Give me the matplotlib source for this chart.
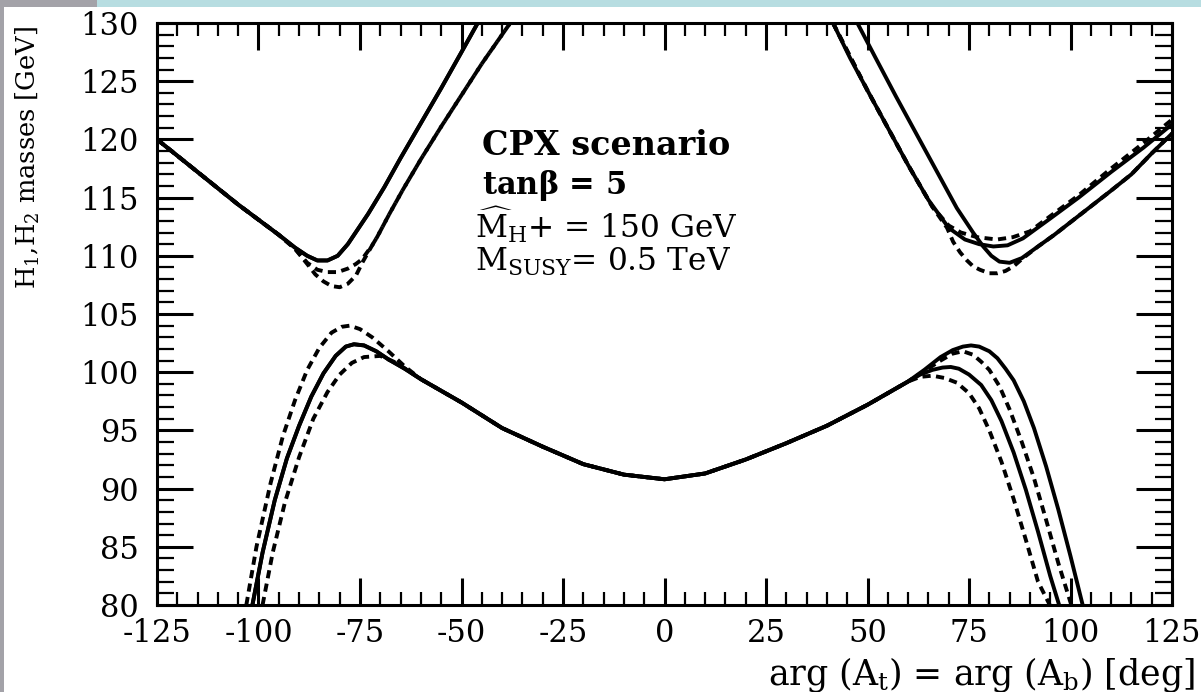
"""
Masas H1 / H2 frente a la fase comun arg(A_t) = arg(A_b), escenario CPX.
Curvas continuas y discontinuas para las distintas variantes del calculo.
"""

import numpy as np
import matplotlib.pyplot as plt
from matplotlib.patches import Rectangle
from matplotlib.ticker import MultipleLocator

plt.rcParams["font.family"] = ["DejaVu Serif"]
plt.rcParams["mathtext.fontset"] = "dejavuserif"
plt.rcParams["axes.unicode_minus"] = False

# ── H1 (rama inferior) ─────────────────────────────────────────────────────────
# tramo comun a todas las curvas
H1_MID_X = [-60, -50, -40, -30, -20, -10, 0, 10, 20, 30, 40, 50, 60]
H1_MID_Y = [99.4, 97.4, 95.2, 93.6, 92.1, 91.2, 90.8, 91.3, 92.5, 93.9, 95.4, 97.2, 99.2]

# lado izquierdo (las dos continuas coinciden)
H1_SOL_LX = [-101.5, -99, -96, -93, -90, -87, -84, -81, -78.5, -76.5, -74, -71, -68, -64]
H1_SOL_LY = [80.0, 84.5, 89.0, 92.6, 95.4, 97.9, 99.9, 101.4, 102.2, 102.4, 102.3, 101.8, 101.1, 100.3]
H1_DC_LX = [-103, -100.5, -97, -94, -91, -88, -85, -82, -79.5, -77.5, -75, -72, -68, -64]
H1_DC_LY = [80.0, 85.0, 90.5, 94.5, 97.6, 100.2, 102.1, 103.4, 103.9, 104.0, 103.7, 103.0, 101.8, 100.5]
H1_DD_LX = [-99, -96.5, -93.5, -90, -86.5, -83, -80, -77, -74, -70, -66]
H1_DD_LY = [80.0, 84.5, 88.8, 92.7, 96.0, 98.3, 99.8, 100.8, 101.3, 101.4, 100.8]

# lado derecho
H1_SA_RX = [64, 68, 71, 73.5, 75.5, 77.5, 80, 82, 84, 86, 88.5, 91, 94, 97, 100, 103]
H1_SA_RY = [100.2, 101.3, 101.9, 102.2, 102.3, 102.2, 101.8, 101.2, 100.3, 99.3, 97.5, 95.2,
            91.9, 88.2, 84.2, 80.0]
H1_SB_RX = [63, 66, 68.5, 70.5, 72.5, 75, 78, 80.5, 83, 86, 89, 92, 95, 97.2]
H1_SB_RY = [99.8, 100.2, 100.4, 100.45, 100.3, 99.8, 98.9, 97.6, 95.8, 93.1, 89.9, 86.3, 82.5, 80.0]
H1_DC_RX = [64, 68, 71, 73.5, 76, 78, 80, 82.5, 85, 88, 91, 94, 97, 100.2]
H1_DC_RY = [100.1, 101.0, 101.6, 101.8, 101.5, 100.9, 100.2, 98.8, 96.8, 94.0, 90.9, 87.3, 83.6, 80.0]
H1_DD_RX = [63, 66, 69, 72, 75, 77.5, 80, 83, 86, 89, 92, 94.9]
H1_DD_RY = [99.6, 99.7, 99.5, 99.1, 98.2, 96.9, 95.0, 92.3, 89.1, 85.6, 82.0, 80.0]

# ── H2 (rama superior) ─────────────────────────────────────────────────────────
H2_SOL_LX = [-125, -120, -115, -110, -105, -100, -95, -91, -88, -85.5, -83, -80.5,
             -78, -75.5, -73, -69, -65, -60, -55, -50, -46]
H2_SOL_LY = [120.0, 118.6, 117.2, 115.8, 114.4, 113.1, 111.8, 110.7, 110.0, 109.6, 109.6,
             110.0, 111.0, 112.3, 113.6, 115.9, 118.4, 121.4, 124.4, 127.5, 130.0]
H2_DC_LX = [-125, -115, -105, -95, -91, -88, -85.5, -83, -80.5, -78, -76, -74.5]
H2_DC_LY = [120.0, 117.2, 114.4, 111.8, 110.6, 109.4, 108.8, 108.6, 108.6, 108.9, 109.3, 109.7]
H2_DD_LX = [-125, -115, -105, -95, -91, -88, -86, -84, -82, -80, -78, -76, -74.3]
H2_DD_LY = [120.0, 117.2, 114.4, 111.8, 110.6, 109.3, 108.4, 107.8, 107.4, 107.3, 107.6, 108.3, 109.5]
# subida comun de las dos discontinuas
H2_DSUB_X = [-72, -70.8, -67.6, -64.4, -60, -55, -50, -45, -40, -38]
H2_DSUB_Y = [110.9, 111.6, 113.7, 115.7, 118.3, 121.1, 123.8, 126.5, 129.0, 130.0]

H2_SA_RX = [47.5, 52, 57, 62, 67, 72, 76, 78.5, 80.5, 82.5, 85, 88, 92, 96, 103, 110, 115, 120, 125]
H2_SA_RY = [130.0, 127.0, 123.7, 120.5, 117.3, 114.1, 112.0, 110.8, 110.0, 109.5, 109.4,
            109.8, 110.8, 111.8, 113.7, 115.6, 117.0, 118.8, 120.5]
H2_SB_RX = [41.5, 45.7, 50, 55, 60, 65, 70, 74, 77.5, 81, 84.5, 88.3, 95, 102, 110, 118, 125]
H2_SB_RY = [130.0, 127.0, 124.2, 121.0, 117.8, 114.8, 112.4, 111.4, 111.0, 110.8, 110.9,
            111.5, 113.2, 115.0, 117.2, 119.3, 121.3]
H2_DC_RX = [41.5, 50, 60, 66, 70, 73, 77, 81.9, 85.8, 90, 95, 102, 110, 118, 125]
H2_DC_RY = [130.0, 124.2, 117.8, 114.2, 112.6, 112.0, 111.6, 111.4, 111.6, 112.1, 113.4,
            115.2, 117.5, 119.7, 121.7]
H2_DD_RX = [41.5, 50, 60, 66, 69.6, 71.1, 72.8, 74.5, 76, 77.7, 80, 82, 84, 86, 88.3,
            92, 96, 103, 110, 115, 120, 125]
H2_DD_RY = [130.0, 124.2, 117.8, 114.2, 112.4, 111.2, 110.3, 109.6, 109.1, 108.8, 108.5,
            108.5, 108.7, 109.1, 109.8, 110.8, 111.8, 113.7, 115.6, 117.0, 118.8, 120.5]

X_TICKS = [-125, -100, -75, -50, -25, 0, 25, 50, 75, 100, 125]
Y_TICKS = [80, 85, 90, 95, 100, 105, 110, 115, 120, 125, 130]

# texto, x, linea base (pixeles), tamano, peso
TEXTO = [
    ("CPX scenario", 482, 155, 24, "bold"),
    (r"tan$\mathbf{\beta}$ = 5", 482, 194, 22, "bold"),
    (r"$\widehat{\mathrm{M}}_{\mathrm{H}}$+ = 150 GeV", 475, 238, 22.5, "normal"),
    (r"M$_{\mathrm{SUSY}}$= 0.5 TeV", 475, 271, 22.5, "normal"),
]


def unir(*tramos):
    """Concatena tramos (x, y); None mete un corte (NaN)."""
    xs, ys = [], []
    for t in tramos:
        if t is None:
            xs.append(np.nan)
            ys.append(np.nan)
        else:
            xs.extend(t[0])
            ys.extend(t[1])
    return np.array(xs, float), np.array(ys, float)


W, H = 1201, 692
fig = plt.figure(figsize=(W / 100, H / 100), dpi=100)
fig.patch.set_facecolor("white")

# marco de la diapositiva
fig.patches.append(Rectangle((0, 1 - 7 / H), 97 / W, 7 / H, transform=fig.transFigure,
                             facecolor="#a3a2a8", edgecolor="none", zorder=0))
fig.patches.append(Rectangle((97 / W, 1 - 7 / H), 1 - 97 / W, 7 / H, transform=fig.transFigure,
                             facecolor="#b7dde1", edgecolor="none", zorder=0))
fig.patches.append(Rectangle((0, 0), 4 / W, 1, transform=fig.transFigure,
                             facecolor="#a3a2a8", edgecolor="none", zorder=0))

ax = fig.add_axes([157 / W, 1 - 605 / H, (1172 - 157) / W, (605 - 23) / H])

sol_kw = dict(color="black", lw=2.8, solid_capstyle="round", solid_joinstyle="round")
das_kw = dict(color="black", lw=2.8, linestyle=(0, (2.1, 1.4)))

# H1
for lx, ly, rx, ry, kw in [
    (H1_SOL_LX, H1_SOL_LY, H1_SA_RX, H1_SA_RY, sol_kw),
    (H1_SOL_LX, H1_SOL_LY, H1_SB_RX, H1_SB_RY, sol_kw),
    (H1_DC_LX, H1_DC_LY, H1_DC_RX, H1_DC_RY, das_kw),
    (H1_DD_LX, H1_DD_LY, H1_DD_RX, H1_DD_RY, das_kw),
]:
    x, y = unir((lx, ly), (H1_MID_X, H1_MID_Y), (rx, ry))
    ax.plot(x, y, **kw)

# H2
for izq, der, kw in [
    ([(H2_SOL_LX, H2_SOL_LY)], (H2_SA_RX, H2_SA_RY), sol_kw),
    ([(H2_SOL_LX, H2_SOL_LY)], (H2_SB_RX, H2_SB_RY), sol_kw),
    ([(H2_DC_LX, H2_DC_LY), (H2_DSUB_X, H2_DSUB_Y)], (H2_DC_RX, H2_DC_RY), das_kw),
    ([(H2_DD_LX, H2_DD_LY), (H2_DSUB_X, H2_DSUB_Y)], (H2_DD_RX, H2_DD_RY), das_kw),
]:
    x, y = unir(*izq, None, der)
    ax.plot(x, y, **kw)

ax.set_xlim(-125, 125)
ax.set_ylim(80, 130)
ax.set_xticks(X_TICKS)
ax.set_yticks(Y_TICKS)
ax.xaxis.set_minor_locator(MultipleLocator(5))
ax.yaxis.set_minor_locator(MultipleLocator(1))

for s in ax.spines.values():
    s.set_linewidth(2.2)

ax.tick_params(which="both", direction="in", top=True, right=True, colors="black")
ax.tick_params(axis="x", which="major", length=19.5, width=2.2, pad=9, labelsize=22)
ax.tick_params(axis="x", which="minor", length=9.5, width=1.6)
ax.tick_params(axis="y", which="major", length=26, width=2.2, pad=13, labelsize=22)
ax.tick_params(axis="y", which="minor", length=12, width=1.6)

for txt, xpix, ypix, tam, peso in TEXTO:
    fig.text(xpix / W, 1 - ypix / H, txt, fontsize=tam, fontweight=peso,
             ha="left", va="baseline")

fig.text(1195 / W, 1 - 684 / H, r"arg (A$_\mathrm{t}$) = arg (A$_\mathrm{b}$) [deg]",
         fontsize=25, ha="right", va="baseline")
fig.text(28 / W, 1 - 157 / H, r"H$_1$,H$_2$ masses [GeV]",
         fontsize=18.5, rotation=90, ha="center", va="center")

fig.savefig("out.png", dpi=100)
